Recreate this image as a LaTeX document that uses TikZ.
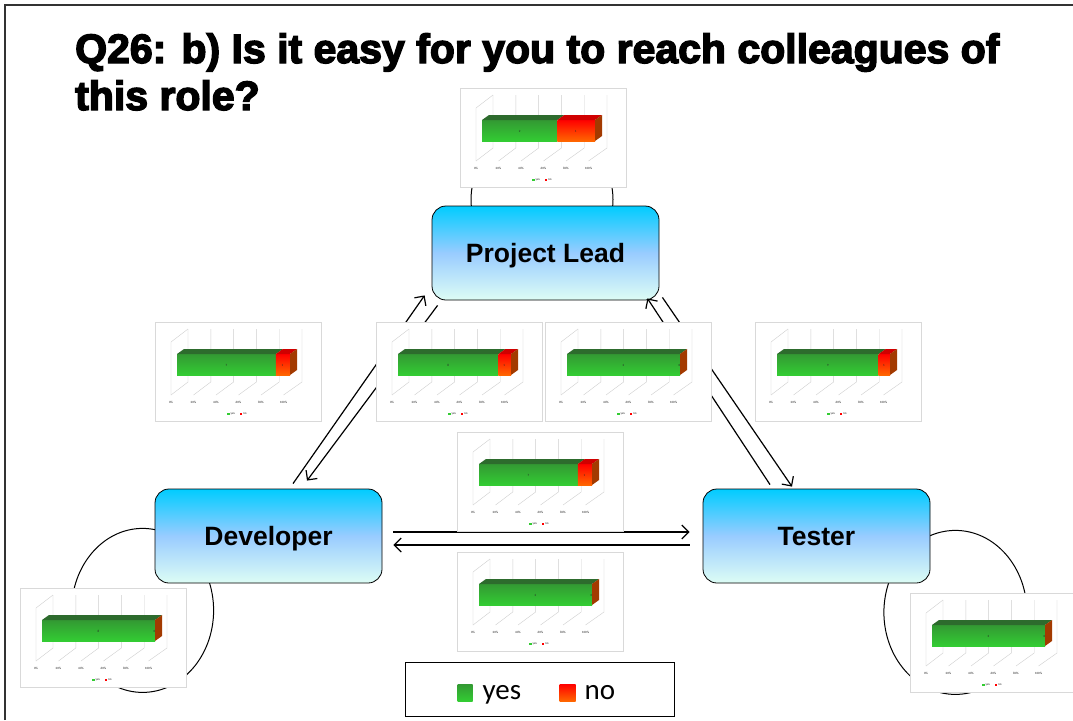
\documentclass[tikz,border=0pt]{standalone}
\usepackage{fontspec}
\setmainfont{Liberation Sans}
\newfontfamily\calfont{Carlito}
\newfontfamily\titlefont{Liberation Sans Bold}[FakeBold=3.5]
\usetikzlibrary{arrows.meta,calc,backgrounds}
\definecolor{cyantop}{HTML}{00CCFF}
\definecolor{bluemid}{HTML}{99CCFF}
\definecolor{mintbot}{HTML}{DDFDF5}
\definecolor{gridgray}{HTML}{D9D9D9}
\definecolor{wallgray}{HTML}{CFCFCF}
\definecolor{yestop}{HTML}{339933}
\definecolor{yesbot}{HTML}{33CC33}
\definecolor{yesdark}{HTML}{2D6B2D}
\definecolor{notop}{HTML}{FF0000}
\definecolor{nobot}{HTML}{FF6600}
\definecolor{nodark}{HTML}{D00000}
\definecolor{noside}{HTML}{A33A00}
\tikzset{
  rolebox/.style={draw,line width=0.8pt,rounded corners=14pt,minimum width=227pt,minimum height=94pt,
    top color=cyantop,bottom color=mintbot,middle color=bluemid,text height=19pt,text depth=0pt,
    font=\bfseries\fontsize{26.5}{30}\selectfont},
  chartbox/.style={draw=gridgray,fill=white,line width=0.8pt,minimum width=166pt,minimum height=99pt,inner sep=0pt},
  tick/.style={font=\calfont\fontsize{3.2}{3.5}\selectfont,text=black!85,inner sep=0pt},
  relarrow/.style={line width=1.2pt,-{Straight Barb[length=7pt,width=14pt]}},
  loopline/.style={line width=1pt}
}
\newcommand{\barchart}[4]{
  \node[chartbox,anchor=north west] (#1) at #2 {};
  \begin{scope}[shift={(#1.north west)}]
    \pgfmathsetmacro{\yend}{22+113*#3/(#3+#4)}
    \draw[wallgray] (16,73) -- (16,20) -- (33,7);
    \foreach \i in {0,...,5}{
      \draw[wallgray] (33+22.8*\i,7) -- (33+22.8*\i,60) -- (16+22.5*\i,73);
      \pgfmathtruncatemacro{\pc}{20*\i}
      \node[tick] at (16+22.5*\i,80) {\pc\%};
    }
    \shade[top color=yestop,bottom color=yesbot] (22,32) rectangle (\yend,53);
    \fill[yesdark] (22,32) -- (29,27) -- (\yend+7,27) -- (\yend,32) -- cycle;
    \ifnum#4>0
      \shade[top color=notop,bottom color=nobot] (\yend,32) rectangle (135,53);
      \fill[nodark] (\yend,32) -- (\yend+7,27) -- (142,27) -- (135,32) -- cycle;
    \fi
    \fill[noside] (135,32) -- (142,27) -- (142,48) -- (135,53) -- cycle;
    \node[tick] at ({(22+\yend)/2},43) {#3};
    \node[tick] at ({(\yend+134)/2},43) {#4};
    \fill[yesbot] (72,90.5) rectangle (74.5,93);
    \node[tick,anchor=west] at (75.5,91.8) {yes};
    \fill[notop] (84.5,90.5) rectangle (87,93);
    \node[tick,anchor=west] at (88,91.8) {no};
  \end{scope}
}

\begin{document}
\begin{tikzpicture}[x=1pt,y=-1pt]
  \useasboundingbox (0,0) rectangle (1073,720);
  \draw[line width=1.2pt,black!80] (5,720) -- (5,5) -- (1073,5);

  \node[anchor=base west,inner sep=0pt,font=\titlefont\fontsize{41}{47}\selectfont] (title1) at (75,63) {Q26: b) Is it easy for you to reach colleagues of};
  \node[anchor=base west,inner sep=0pt,font=\titlefont\fontsize{41}{47}\selectfont] (title2) at (75,110) {this role?};

  \node[rolebox] (pl) at (545.5,253) {Project Lead};
  \node[rolebox] (dev) at (268.5,536) {Developer};
  \node[rolebox] (tester) at (816.5,536) {Tester};

  \begin{pgfonlayer}{background}
    \draw[loopline] ($(pl.north)+(-3.5,-6)$) ellipse [x radius=71,y radius=70];
    \draw[loopline] ($(dev.south west)+(-12,27)$) ellipse [x radius=71,y radius=82];
    \draw[loopline] ($(tester.south east)+(25,29)$) ellipse [x radius=71.5,y radius=82];
  \end{pgfonlayer}

  \draw[relarrow] ($(dev.north)+(24.5,-5)$) -- ($(pl.south west)+(-7,-5)$);
  \draw[relarrow] ($(pl.south west)+(6,5)$) -- ($(dev.north)+(38.5,-8)$);
  \draw[relarrow] ($(tester.north)+(-46.5,-4)$) -- ($(pl.south east)+(-12,-2)$);
  \draw[relarrow] ($(pl.south east)+(3,-3)$) -- ($(tester.north)+(-24.5,-2)$);
  \draw[relarrow] ($(dev.east)+(11,-4)$) -- ($(tester.west)+(-13,-4)$);
  \draw[relarrow] ($(tester.west)+(-13,9)$) -- ($(dev.east)+(11,9)$);

  \barchart{chartpl}{(460,88)}{2}{1}
  \barchart{chartdevpl}{(155,322)}{7}{1}
  \barchart{chartpldev}{(376,322)}{8}{1}
  \barchart{chartpltest}{(545,322)}{2}{0}
  \barchart{charttestpl}{(755,322)}{9}{1}
  \barchart{chartdevtest}{(457,432)}{7}{1}
  \barchart{charttestdev}{(457,552)}{2}{0}
  \barchart{chartdev}{(20,588)}{8}{0}
  \barchart{charttest}{(910,593)}{3}{0}

  \node[draw,line width=1pt,minimum width=269pt,minimum height=54pt,inner sep=0pt] (legend) at (539.5,689.5) {};
  \shade[top color=yestop,bottom color=yesbot] ($(legend.west)+(53,-5.5)$) rectangle +(15,17);
  \node[anchor=base west,inner sep=0pt,font=\calfont\fontsize{29}{30}\selectfont] (legyes) at ($(legend.west)+(78,9.5)$) {yes};
  \shade[top color=notop,bottom color=nobot] ($(legend.west)+(155,-5.5)$) rectangle +(16,17);
  \node[anchor=base west,inner sep=0pt,font=\calfont\fontsize{29}{30}\selectfont] (legno) at ($(legend.west)+(180,9.5)$) {no};
\end{tikzpicture}
\end{document}
